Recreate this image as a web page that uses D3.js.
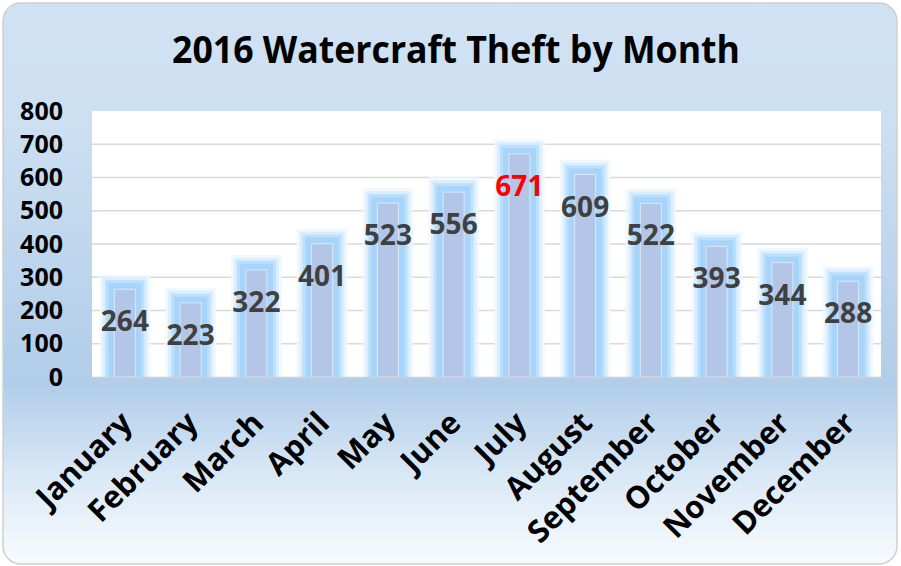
<!DOCTYPE html>
<html>
<head>
<meta charset="utf-8">
<script src="https://cdn.jsdelivr.net/npm/d3@7"></script>
<style>
  body { margin: 0; background: #ffffff; }
  svg { display: block; }
</style>
</head>
<body>
<svg id="drawing_region"></svg>
<script>
const months = ["January", "February", "March", "April", "May", "June",
                "July", "August", "September", "October", "November", "December"];
const thefts = [264, 223, 322, 401, 523, 556, 671, 609, 522, 393, 344, 288];
const yTicks = [0, 100, 200, 300, 400, 500, 600, 700, 800];
const peakMonth = "July";

const width = 901, height = 566;
const plot = { left: 92, right: 881, top: 111, bottom: 377 };
const font = "'Open Sans', sans-serif";

const svg = d3.select('#drawing_region')
    .attr('width', width)
    .attr('height', height);

// card background gradient
const defs = svg.append('defs');
const grad = defs.append('linearGradient')
    .attr('id', 'cardGrad')
    .attr('x1', 0).attr('y1', 0).attr('x2', 0).attr('y2', 1);
[[0, '#d0e2f2'], [0.2, '#cde0f2'], [0.68, '#b1cde9'], [0.84, '#d9e8f6'], [1, '#f8fbfe']]
    .forEach(s => grad.append('stop').attr('offset', s[0]).attr('stop-color', s[1]));

svg.append('rect')
    .attr('x', 3).attr('y', 3)
    .attr('width', 894).attr('height', 561)
    .attr('rx', 18).attr('ry', 18)
    .attr('fill', 'url(#cardGrad)')
    .attr('stroke', '#cfcfcf')
    .attr('stroke-width', 1.5);

// title
svg.append('text')
    .attr('x', 456).attr('y', 63)
    .attr('text-anchor', 'middle')
    .attr('font-family', font)
    .attr('font-weight', 700)
    .attr('font-size', 37)
    .attr('textLength', 568)
    .attr('lengthAdjust', 'spacingAndGlyphs')
    .attr('fill', '#000')
    .text('2016 Watercraft Theft by Month');

const x = d3.scaleBand()
    .domain(months)
    .range([plot.left, plot.right])
    .paddingInner(0.68)
    .paddingOuter(0.34);

const y = d3.scaleLinear()
    .domain([0, 800])
    .range([plot.bottom, plot.top]);

// plot area
svg.append('rect')
    .attr('x', plot.left).attr('y', plot.top)
    .attr('width', plot.right - plot.left)
    .attr('height', plot.bottom - plot.top)
    .attr('fill', '#ffffff');

// gridlines
svg.append('g')
    .selectAll('line')
    .data(yTicks.filter(d => d > 0 && d < 800))
    .join('line')
    .attr('x1', plot.left).attr('x2', plot.right)
    .attr('y1', d => y(d)).attr('y2', d => y(d))
    .attr('stroke', '#d9d9d9')
    .attr('stroke-width', 1.5);

// y axis
const yAxis = svg.append('g')
    .attr('transform', `translate(${plot.left}, 0)`)
    .call(d3.axisLeft(y).tickValues(yTicks).tickSize(0).tickPadding(29));
yAxis.select('.domain').remove();
yAxis.selectAll('text')
    .attr('font-family', font)
    .attr('font-weight', 700)
    .attr('font-size', 25)
    .attr('fill', '#000');

// bars with glow
const glow = [
    { pad: 15, color: '#eef7ff', op: 0.8 },
    { pad: 12, color: '#d4ebfe', op: 0.8 },
    { pad: 9, color: '#b6ddfc', op: 0.85 },
    { pad: 6, color: '#a3d3fb', op: 0.9 }
];
const bars = svg.append('g')
    .selectAll('g')
    .data(months.map((m, i) => ({ month: m, value: thefts[i] })))
    .join('g');

glow.forEach(gl => {
    bars.append('rect')
        .attr('x', d => x(d.month) - gl.pad)
        .attr('width', x.bandwidth() + 2 * gl.pad)
        .attr('y', d => y(d.value) - gl.pad)
        .attr('height', d => plot.bottom - y(d.value) + gl.pad)
        .attr('fill', gl.color)
        .attr('opacity', gl.op);
});

bars.append('rect')
    .attr('x', d => x(d.month))
    .attr('width', x.bandwidth())
    .attr('y', d => y(d.value))
    .attr('height', d => plot.bottom - y(d.value))
    .attr('fill', '#b4c6e7')
    .attr('stroke', '#dce7f5')
    .attr('stroke-width', 1);

// baseline
svg.append('line')
    .attr('x1', plot.left).attr('x2', plot.right)
    .attr('y1', plot.bottom + 0.5).attr('y2', plot.bottom + 0.5)
    .attr('stroke', '#d0d0d0')
    .attr('stroke-width', 1.5);

// data labels
bars.append('text')
    .attr('x', d => x(d.month) + x.bandwidth() / 2)
    .attr('y', d => y(d.value) + 42)
    .attr('text-anchor', 'middle')
    .attr('font-family', font)
    .attr('font-weight', 700)
    .attr('font-size', 28)
    .attr('fill', d => d.month === peakMonth ? '#ff0000' : '#404040')
    .text(d => d.value);

// x axis labels
const xAxis = svg.append('g')
    .attr('transform', `translate(0, ${plot.bottom})`)
    .call(d3.axisBottom(x).tickSize(0).tickPadding(0));
xAxis.select('.domain').remove();
xAxis.selectAll('text')
    .attr('font-family', font)
    .attr('font-weight', 700)
    .attr('font-size', 31)
    .attr('fill', '#000')
    .attr('text-anchor', 'end')
    .attr('dy', 0)
    .attr('transform', 'translate(9, 48) rotate(-45)');
</script>
</body>
</html>
